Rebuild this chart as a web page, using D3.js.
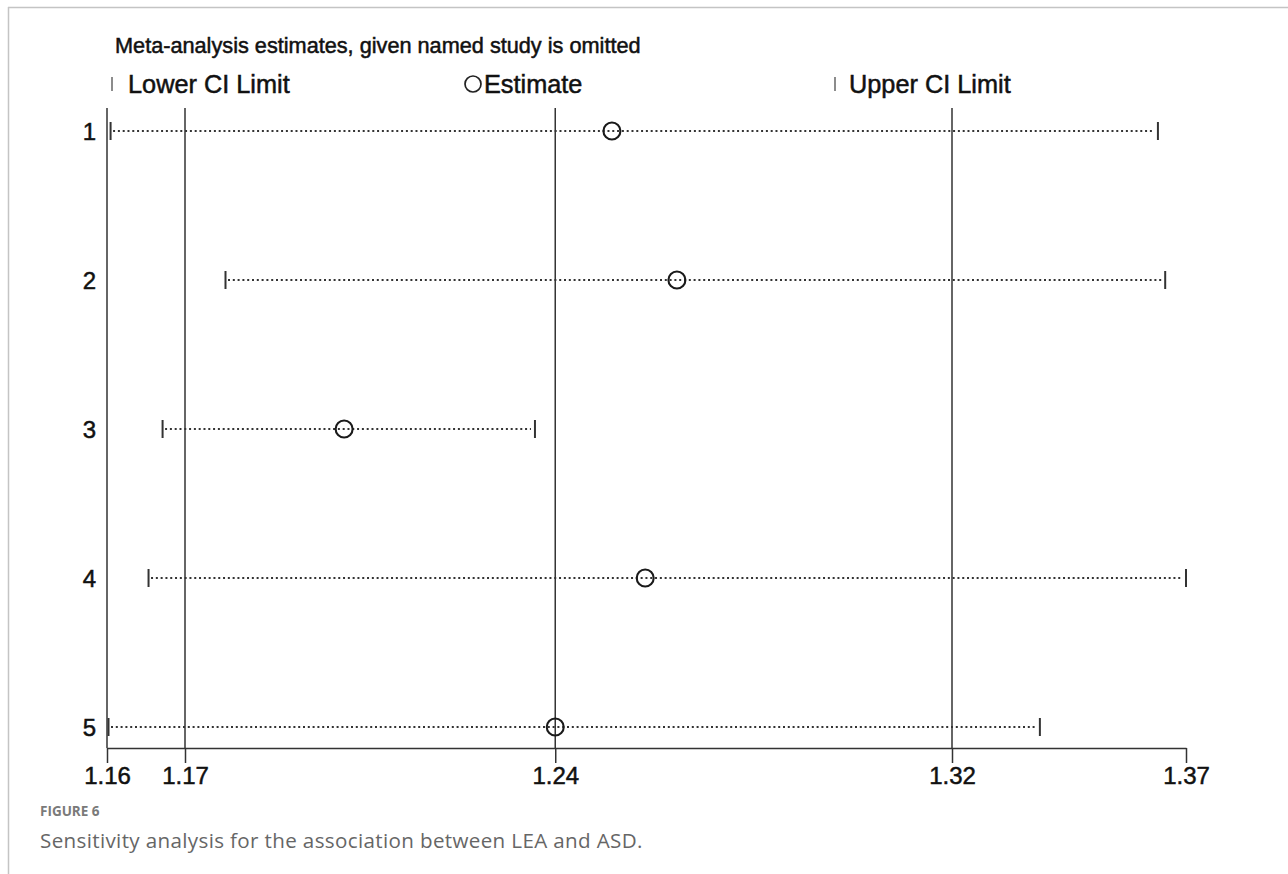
<!DOCTYPE html>
<html>
<head>
<meta charset="utf-8">
<script src="https://cdn.jsdelivr.net/npm/d3@7"></script>
<style>
  html, body { margin: 0; padding: 0; background: #fff; }
  .stata { font-family: "Liberation Sans", Arial, sans-serif; fill: #111; stroke: #111; stroke-width: 0.5px; }
  .cap { font-family: "Open Sans", sans-serif; }
</style>
</head>
<body>
<svg id="chart" width="1288" height="874"></svg>
<script>
// ---- data ----
const studies = ["1", "2", "3", "4", "5"];
const lowerCI = [1.1584, 1.1805, 1.1684, 1.1657, 1.1580];
const estimate = [1.2551, 1.2676, 1.2036, 1.2615, 1.2442];
const upperCI = [1.3601, 1.3615, 1.2403, 1.3655, 1.3374];
const tickValues = [1.1580, 1.1730, 1.2442, 1.3205, 1.3655];
const tickLabels = ["1.16", "1.17", "1.24", "1.32", "1.37"];
const refLineValues = [1.1580, 1.1730, 1.2442, 1.3205];
const titleText = "Meta-analysis estimates, given named study is omitted";
const legendLabels = ["Lower CI Limit", "Estimate", "Upper CI Limit"];
const figureLabel = "FIGURE 6";
const captionText = "Sensitivity analysis for the association between LEA and ASD.";

const svg = d3.select("#chart");

// frame
svg.append("line").attr("x1", 8).attr("x2", 1288).attr("y1", 7.5).attr("y2", 7.5)
  .attr("stroke", "#c4c4c4").attr("stroke-width", 1.5);
svg.append("line").attr("x1", 8.5).attr("x2", 8.5).attr("y1", 7).attr("y2", 874)
  .attr("stroke", "#c4c4c4").attr("stroke-width", 1.5);

const x = d3.scaleLinear().domain([tickValues[0], tickValues[tickValues.length - 1]]).range([107, 1186]);
const y = d3.scalePoint().domain(studies).range([131, 727]);
const axisY = 748;

// reference lines
svg.append("g").selectAll("line").data(refLineValues).join("line")
  .attr("x1", d => x(d)).attr("x2", d => x(d))
  .attr("y1", 108).attr("y2", axisY)
  .attr("stroke", "#333").attr("stroke-width", 1.5);

// axis
const axis = d3.axisBottom(x).tickValues(tickValues)
  .tickFormat((d, i) => tickLabels[i]).tickSize(15).tickSizeOuter(0).tickPadding(1);
const gAxis = svg.append("g").attr("transform", `translate(0,${axisY})`).call(axis);
gAxis.attr("font-family", null).attr("font-size", null);
gAxis.select(".domain").attr("stroke", "#333").attr("stroke-width", 1.5);
gAxis.selectAll(".tick line").attr("stroke", "#333").attr("stroke-width", 1.5);
gAxis.selectAll(".tick text").attr("class", "stata").attr("font-size", 24).attr("dy", "0.85em");

// y labels
svg.append("g").selectAll("text").data(studies).join("text").attr("class", "stata")
  .attr("x", 96).attr("y", d => y(d)).attr("dy", "0.36em")
  .attr("text-anchor", "end").attr("font-size", 24).text(d => d);

const rows = studies.map((s, i) => ({ s, lo: lowerCI[i], est: estimate[i], hi: upperCI[i] }));

// dotted CI lines
svg.append("g").selectAll("line").data(rows).join("line")
  .attr("x1", d => x(d.lo) + 4).attr("x2", d => x(d.hi) - 4)
  .attr("y1", d => y(d.s)).attr("y2", d => y(d.s))
  .attr("stroke", "#333").attr("stroke-width", 2.1).attr("stroke-dasharray", "2,2.8");

// caps
const caps = svg.append("g");
caps.selectAll("line.lo").data(rows).join("line").attr("class", "lo")
  .attr("x1", d => x(d.lo) + 1.5).attr("x2", d => x(d.lo) + 1.5)
  .attr("y1", d => y(d.s) - 9).attr("y2", d => y(d.s) + 9)
  .attr("stroke", "#333").attr("stroke-width", 2);
caps.selectAll("line.hi").data(rows).join("line").attr("class", "hi")
  .attr("x1", d => x(d.hi)).attr("x2", d => x(d.hi))
  .attr("y1", d => y(d.s) - 9).attr("y2", d => y(d.s) + 9)
  .attr("stroke", "#333").attr("stroke-width", 2);

// estimate circles
svg.append("g").selectAll("circle").data(rows).join("circle")
  .attr("cx", d => x(d.est)).attr("cy", d => y(d.s)).attr("r", 8.5)
  .attr("fill", "none").attr("stroke", "#1a1a1a").attr("stroke-width", 2.1);

// title
svg.append("text").attr("class", "stata").attr("x", 115).attr("y", 53).attr("font-size", 21.7).text(titleText);

// legend
const legY = 84;
const legFont = 25.3;
svg.append("line").attr("x1", 112).attr("x2", 112).attr("y1", legY - 7).attr("y2", legY + 7)
  .attr("stroke", "#666").attr("stroke-width", 1.5);
svg.append("text").attr("class", "stata").attr("x", 128).attr("y", legY).attr("dy", "0.36em").attr("font-size", legFont).text(legendLabels[0]);
svg.append("circle").attr("cx", 473).attr("cy", legY).attr("r", 8).attr("fill", "none").attr("stroke", "#222").attr("stroke-width", 1.7);
svg.append("text").attr("class", "stata").attr("x", 484).attr("y", legY).attr("dy", "0.36em").attr("font-size", legFont).text(legendLabels[1]);
svg.append("line").attr("x1", 835).attr("x2", 835).attr("y1", legY - 7).attr("y2", legY + 7)
  .attr("stroke", "#666").attr("stroke-width", 1.5);
svg.append("text").attr("class", "stata").attr("x", 849).attr("y", legY).attr("dy", "0.36em").attr("font-size", legFont).text(legendLabels[2]);

// caption
svg.append("text").attr("class", "cap").attr("x", 40).attr("y", 816).attr("font-size", 13.5).attr("font-weight", "bold")
  .attr("fill", "#7a7a7a").text(figureLabel);
svg.append("text").attr("class", "cap").attr("x", 40).attr("y", 848).attr("font-size", 20.6).attr("letter-spacing", 0.35)
  .attr("fill", "#666").text(captionText);
</script>
</body>
</html>
